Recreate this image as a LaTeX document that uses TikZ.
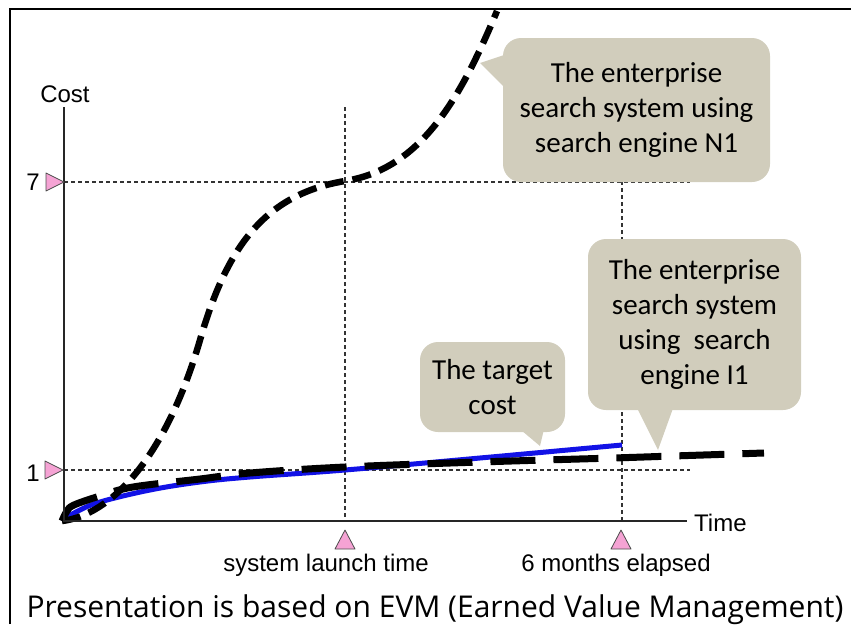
\documentclass[tikz,border=0pt]{standalone}
\usepackage{fontspec}
\setmainfont{Liberation Sans}
\newfontfamily\calib{Carlito}
\newfontfamily\comic{Open Sans}
\definecolor{bubblefill}{RGB}{209,205,188}
\definecolor{tickpink}{RGB}{245,163,212}
\definecolor{curveblue}{RGB}{18,18,230}
\begin{document}
\begin{tikzpicture}[x=1pt,y=-1pt,
  guide/.style={line width=1.1pt, dash pattern=on 4pt off 3pt, black!80},
  axisline/.style={line width=1.6pt, black!85},
  bubble/.style={fill=bubblefill, rounded corners=18pt, align=center, font=\calib\fontsize{29}{35}\selectfont, inner sep=0pt},
  pointer/.style={fill=bubblefill},
  tickmark/.style={fill=tickpink, draw=black!70, line width=0.8pt, line join=round},
  lbl/.style={font=\fontsize{24}{28}\selectfont, inner sep=0pt},
  ncurve/.style={line width=6.5pt, dash pattern=on 19pt off 9pt, black},
  icurve/.style={line width=7pt, dash pattern=on 45pt off 18pt, black},
  tcurve/.style={line width=5pt, curveblue},
]
\useasboundingbox (0,0) rectangle (851,624);
% frame
\draw[line width=2.5pt] (10,624) -- (10,9) -- (851,9);

% guide lines
\draw[guide] (64,182) -- (690,182);
\draw[guide] (64,470) -- (690,470);
\draw[guide] (345,107) -- (345,521);
\draw[guide] (622,160) -- (622,521);

% bubbles
\node[bubble, minimum width=267pt, minimum height=144pt] (bn) at (636.5,110) {The enterprise\\search system using\\search engine N1};
\fill[pointer] (480,63) -- (510,53) -- (510,93) -- cycle;
\node[bubble, minimum width=213pt, minimum height=171pt] (bi) at (694.5,324.5) {The enterprise\\search system\\using~~search\\engine I1};
\fill[pointer] (658,450) -- (633,400) -- (676,400) -- cycle;
\node[bubble, minimum width=145pt, minimum height=90pt] (bt) at (492.5,387) {The target\\cost};
\fill[pointer] (540,446) -- (515,425) -- (545,425) -- cycle;

% curves
\draw[tcurve] plot[smooth, tension=0.6] coordinates {(62,521) (76,512) (100,502) (150,490) (200,482) (250,477) (345,470) (480,458) (622,445)};
\draw[icurve] plot[smooth, tension=0.6] coordinates {(62,521) (67,511) (74,505) (100,496) (133,487) (200,479) (250,473) (345,467) (480,462) (613,458) (673,456) (764,453)};
\draw[ncurve] (62,521) .. controls (110,515) and (165,460) .. (200,340)
  .. controls (225,254) and (260,195) .. (345,181)
  .. controls (420,169) and (460,100) .. (497,11);

% axes
\draw[axisline] (64,107) -- (64,521) -- (687,521);
\node[lbl, anchor=base] (cost) at (65,102) {Cost};
\node[lbl, anchor=base west] (time) at (694,531) {Time};

% value ticks
\draw[tickmark] (46,173) -- (64,182) -- (46,191) -- cycle;
\node[lbl, anchor=base] (seven) at (33,190) {7};
\draw[tickmark] (45,461) -- (63,470) -- (45,479) -- cycle;
\node[lbl, anchor=base] (one) at (33,481) {1};

% time ticks
\draw[tickmark] (345,530) -- (355,549) -- (335,549) -- cycle;
\draw[tickmark] (621,530) -- (631,549) -- (611,549) -- cycle;
\node[lbl, anchor=base] (launch) at (326,571) {system launch time};
\node[lbl, anchor=base] (six) at (616,571) {6 months elapsed};

% note
\node[font=\comic\fontsize{30}{34}\selectfont, anchor=base, inner sep=0pt] (note) at (435,617) {Presentation is based on EVM (Earned Value Management)};
\end{tikzpicture}
\end{document}
